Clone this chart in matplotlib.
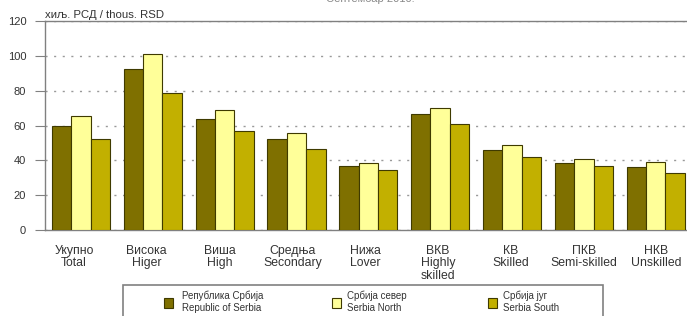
import matplotlib
matplotlib.use("Agg")
import matplotlib.pyplot as plt
import numpy as np
from matplotlib.patches import Rectangle, Patch

plt.rcParams['font.family'] = ['Liberation Sans', 'DejaVu Sans']

# ---- data ----
categories_sr = ["Укупно", "Висока", "Виша", "Средња", "Нижа", "ВКВ", "КВ", "ПКВ", "НКВ"]
categories_en = ["Total", "Higer", "High", "Secondary", "Lover", "Highly\nskilled",
                 "Skilled", "Semi-skilled", "Unskilled"]
serbia = [60, 92.5, 63.8, 52.3, 37.0, 66.7, 46.0, 38.7, 36.2]
north = [65.7, 101.1, 68.8, 55.9, 38.7, 69.9, 49.0, 41.0, 39.3]
south = [52.1, 78.5, 56.9, 46.7, 34.7, 60.9, 42.1, 37.0, 32.9]
series_labels = ["Република Србија\nRepublic of Serbia",
                 "Србија север\nSerbia North",
                 "Србија југ\nSerbia South"]
yticks = [0, 20, 40, 60, 80, 100, 120]
unit_label = "хиљ. РСД / thous. RSD"
title_text = "Септембар 2010."

colors = ["#7f7000", "#ffff99", "#c2b000"]
edge = "#3f3a00"

W, H = 687, 316
fig = plt.figure(figsize=(W / 100, H / 100), dpi=100)
ax = fig.add_axes([45 / W, (H - 230) / H, 646.6 / W, 209 / H])

x = np.arange(len(categories_sr))
bw = 0.27
for k, (vals, c) in enumerate(zip([serbia, north, south], colors)):
    ax.bar(x + (k - 1) * bw, vals, bw, color=c, edgecolor=edge, linewidth=0.8, zorder=3)

ax.set_xlim(-0.5, len(categories_sr) - 0.5)
ax.set_ylim(0, 120)
ax.set_yticks(yticks)
ax.tick_params(axis='y', length=7.2, width=0.8, color="#808080", pad=6.3,
               labelsize=8, labelcolor="#333333")

# category labels (slightly different pitch than the bars in the original)
label_pitch = 1.0134
label_offset = -0.097
ax.set_xticks(x * label_pitch + label_offset)
ax.set_xticklabels([f"{s}\n{e}" for s, e in zip(categories_sr, categories_en)],
                   fontsize=8.8, color="#333333", linespacing=1.1)
ax.tick_params(axis='x', length=0, pad=10.5)

ax.yaxis.grid(True, linestyle=(0, (1.5, 4.7)), color="#999999", linewidth=1.0, zorder=0)
ax.set_axisbelow(True)
for s in ["left", "bottom", "top"]:
    ax.spines[s].set_color("#808080")
    ax.spines[s].set_linewidth(1.0)
ax.spines["right"].set_visible(False)

ax.annotate(unit_label, xy=(0, 1), xycoords='axes fraction', xytext=(0, 2.3),
            textcoords='offset points', va='baseline', ha='left',
            fontsize=8.2, color="#333333")

fig.text(370 / W, 1 - 2.5 / H, title_text, ha='center', va='baseline',
         fontsize=8, color="#888888")

# legend frame
fig.patches.append(Rectangle((123 / W, -0.05), (603 - 123) / W, (H - 285) / H + 0.05,
                             transform=fig.transFigure, fill=False,
                             edgecolor="#808080", linewidth=1.2))

# legend entries
marker_x = [164, 332, 488]
pads = [0.9, 0.6, 0.55]
for lbl, c, mx, pd in zip(series_labels, colors, marker_x, pads):
    leg = fig.legend([Patch(facecolor=c, edgecolor=edge, linewidth=0.8)], [lbl],
                     loc='upper left', bbox_to_anchor=(mx / W, (H - 291) / H),
                     frameon=False, fontsize=7, borderpad=0, borderaxespad=0,
                     handlelength=0.95, handleheight=1.16, handletextpad=pd)
    for t in leg.get_texts():
        t.set_color("#333333")
        t.set_linespacing(1.2)

fig.savefig("out.png", dpi=100)
